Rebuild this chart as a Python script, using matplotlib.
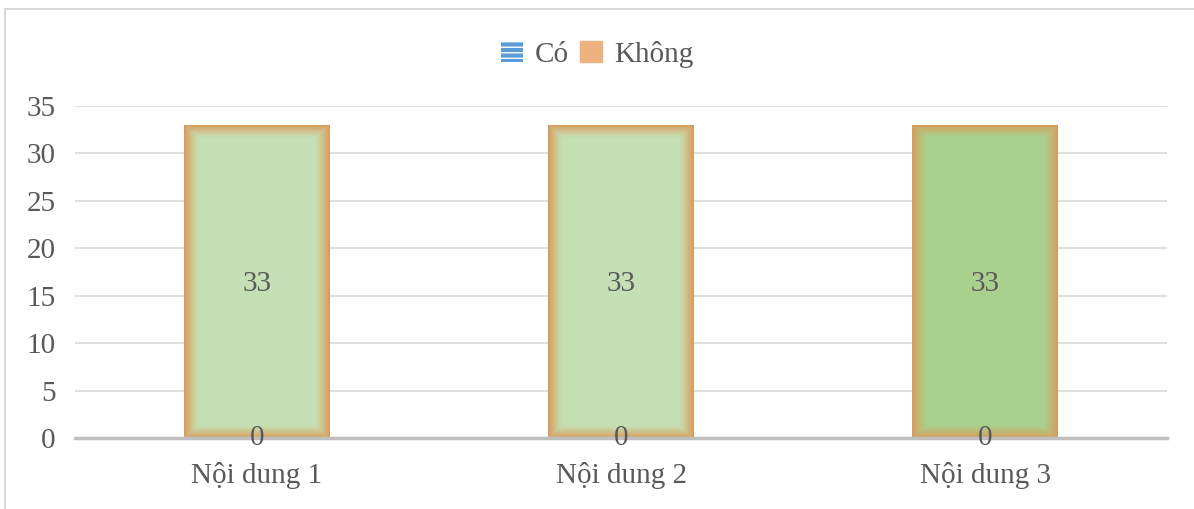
import matplotlib.pyplot as plt
import numpy as np
from matplotlib.patches import Patch
from matplotlib.lines import Line2D
from matplotlib.colors import to_rgb

categories = ['Nội dung 1', 'Nội dung 2', 'Nội dung 3']
co_values = [0, 0, 0]
khong_values = [33, 33, 33]
y_ticks = [0, 5, 10, 15, 20, 25, 30, 35]

EDGE = '#D99A5A'
FILLS = ['#C5E0B4', '#C5E0B4', '#A9D18E']
BLUE = '#5B9BD5'
TEXT = '#595959'
FS = 21

plt.rcParams['font.family'] = ['Liberation Serif', 'DejaVu Serif']
plt.rcParams['hatch.color'] = '#A9C8EA'

fig = plt.figure(figsize=(11.94, 5.09), dpi=100)
ax = fig.add_axes([75 / 1194, 1 - 438 / 509, 1092 / 1194, 332 / 509])

x = np.arange(len(categories))
width = 0.4

# Có series (all zero)
ax.bar(x, co_values, width, color=BLUE, zorder=2)

# Không series, with soft orange glow at the edges
steps = 30
c0 = np.array(to_rgb(EDGE))
for k in range(steps + 1):
    t = k / steps
    mix = t ** 0.8
    inset_w = width * 0.1 * t
    inset_h = 33 * 0.04 * t
    for i in range(len(x)):
        c1 = np.array(to_rgb(FILLS[i]))
        c = c0 + (c1 - c0) * mix
        ax.bar(x[i], khong_values[i] - 2 * inset_h, width - 2 * inset_w,
               bottom=co_values[i] + inset_h, color=c, linewidth=0, zorder=3)

for i in range(len(x)):
    ax.text(x[i], co_values[i] + khong_values[i] / 2, str(khong_values[i]),
            ha='center', va='center_baseline', fontsize=FS, color=TEXT, zorder=5)
    ax.text(x[i], co_values[i], str(co_values[i]), ha='center', va='center',
            fontsize=FS, color=TEXT, zorder=5)

ax.set_xlim(-0.5, len(categories) - 0.5)
ax.set_ylim(0, 35)
ax.set_yticks(y_ticks)
ax.set_xticks(x)
ax.set_xticklabels(categories)
ax.tick_params(axis='both', length=0, labelsize=FS, colors=TEXT)
ax.tick_params(axis='x', pad=17)
ax.tick_params(axis='y', pad=14)
ax.yaxis.grid(True, color='#D9D9D9', linewidth=1.2, zorder=0)
ax.set_axisbelow(True)
for s in ['top', 'right', 'left']:
    ax.spines[s].set_visible(False)
ax.spines['bottom'].set_color('#BFBFBF')
ax.spines['bottom'].set_linewidth(2.5)
ax.spines['bottom'].set_zorder(4)

handles = [Patch(facecolor=BLUE, edgecolor='white', hatch='---', linewidth=0),
           Patch(facecolor='#EDB27E', edgecolor='#EDB27E')]
leg = fig.legend(handles, ['Có', 'Không'], loc='center', bbox_to_anchor=(0.5, 1 - 54 / 509),
                 ncol=2, frameon=False, fontsize=FS, handlelength=0.75, handleheight=0.75,
                 handletextpad=0.4, columnspacing=0.4)
for t in leg.get_texts():
    t.set_color(TEXT)

# outer chart border (top and left edges visible)
fig.lines.append(Line2D([5 / 1194, 1], [1 - 9 / 509, 1 - 9 / 509], transform=fig.transFigure,
                        color='#D9D9D9', linewidth=1.5))
fig.lines.append(Line2D([5 / 1194, 5 / 1194], [0, 1 - 9 / 509], transform=fig.transFigure,
                        color='#D9D9D9', linewidth=1.5))

fig.savefig('out.png', dpi=100)
